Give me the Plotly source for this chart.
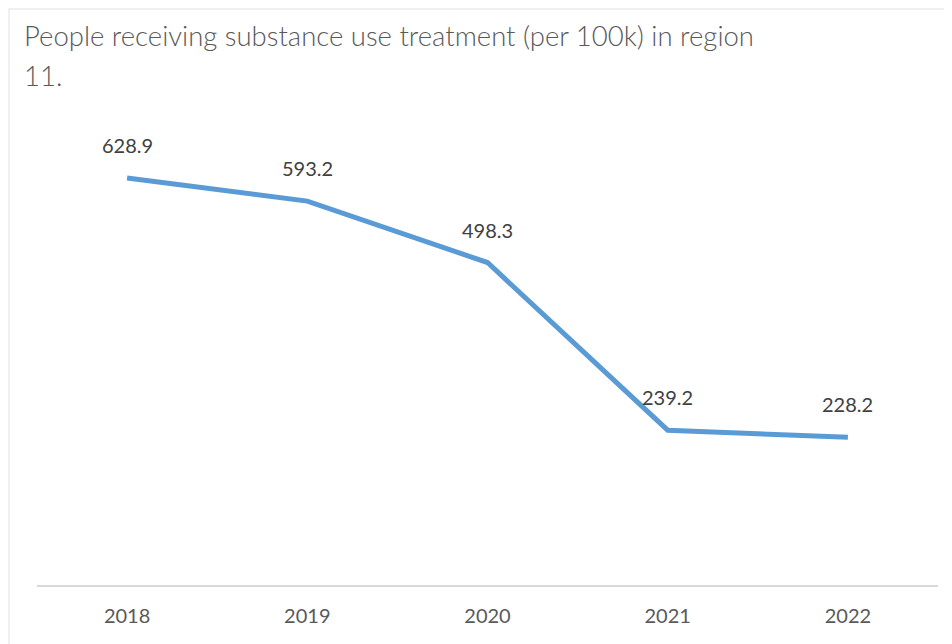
import plotly.graph_objects as go

years = ["2018", "2019", "2020", "2021", "2022"]
values = [628.9, 593.2, 498.3, 239.2, 228.2]
value_labels = ["628.9", "593.2", "498.3", "239.2", "228.2"]
title_lines = ["People receiving substance use treatment (per 100k) in region", "11."]

W, H = 952, 644
OFF = 8  # page body margin (top/left)
FW, FH = W - OFF, H - OFF
ML, MR, MT, MB = 37 - OFF, 14, 132 - OFF, 59
pw = FW - ML - MR
ph = FH - MT - MB

def px_x(px):
    return (px - OFF - ML) / pw

def px_y(py):
    return (FH - MB - (py - OFF)) / ph

FONT = "Lato, Open Sans, sans-serif"

fig = go.Figure()
fig.add_trace(go.Scatter(
    x=years, y=values, mode="lines",
    line=dict(color="#5B9BD5", width=5),
    hoverinfo="x+y", showlegend=False,
))

annotations = []
for i, (v, lab) in enumerate(zip(values, value_labels)):
    annotations.append(dict(
        x=i, y=v, xref="x", yref="y", text=lab, showarrow=False,
        yshift=33, font=dict(family=FONT, size=20, color="#404040"),
    ))

for line, cy in zip(title_lines, [35, 75]):
    annotations.append(dict(
        x=px_x(22), y=px_y(cy), xref="paper", yref="paper", text=line,
        showarrow=False, xanchor="left", yanchor="middle",
        font=dict(family=FONT, size=27.5, color="#595959", weight=300),
    ))

fig.update_layout(
    width=FW, height=FH,
    margin=dict(l=ML, r=MR, t=MT, b=MB),
    paper_bgcolor="white", plot_bgcolor="white",
    annotations=annotations,
    shapes=[dict(
        type="rect", xref="paper", yref="paper",
        x0=px_x(9), x1=px_x(980), y0=px_y(680), y1=px_y(9),
        line=dict(color="#ececec", width=1.5), fillcolor="rgba(0,0,0,0)", layer="below",
    )],
    xaxis=dict(
        type="category", range=[-0.5, 4.5], showgrid=False, zeroline=False,
        showline=True, linecolor="#d9d9d9", linewidth=1.5,
        ticks="", ticklabelstandoff=12,
        tickfont=dict(family=FONT, size=20, color="#595959"),
    ),
    yaxis=dict(
        range=[0, 700], showgrid=False, zeroline=False, showline=False,
        showticklabels=False, ticks="",
    ),
)

fig.write_html("out.html")
